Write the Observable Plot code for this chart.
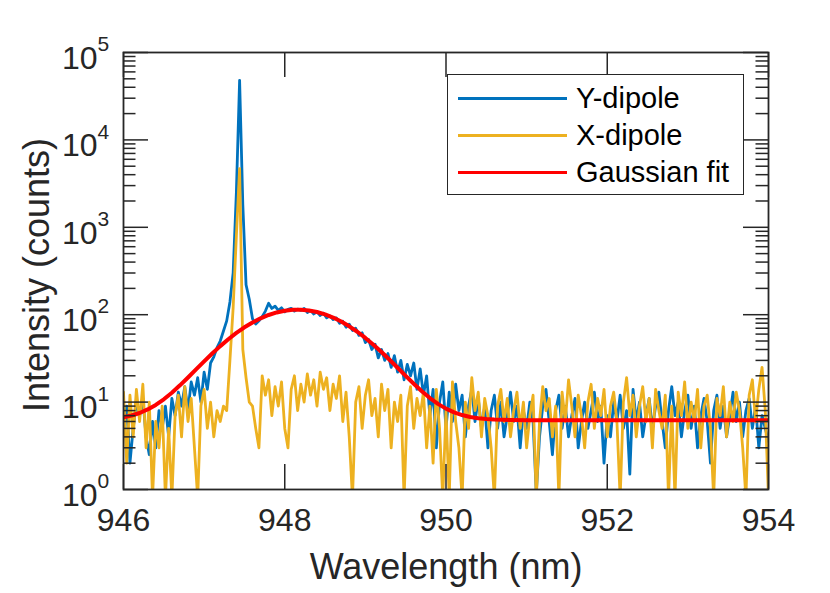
<!DOCTYPE html>
<html>
<head>
<meta charset="utf-8">
<script src="https://cdn.jsdelivr.net/npm/d3@7"></script>
<script src="https://cdn.jsdelivr.net/npm/@observablehq/plot@0.6"></script>
<style>
  html, body { margin: 0; padding: 0; background: white; }
  #wrap { position: relative; width: 830px; height: 593px; font-family: "Liberation Sans", Arial, sans-serif; color: #262626; }
  #legend { position: absolute; left: 447px; top: 74px; width: 297px; height: 121px; box-sizing: border-box;
            border: 1.5px solid #262626; background: white; }
  .row { position: absolute; left: 10px; height: 36px; line-height: 36px; font-size: 29px; white-space: nowrap; color: #000; }
  .sw { display: inline-block; width: 109px; height: 3px; vertical-align: middle; margin-right: 9px; position: relative; top: -2px; }
</style>
</head>
<body>
<div id="wrap"></div>
<script>
// ---- data ----
const wlStart = 946.0;
const wlStep = 0.04;

const yDipole = [
  6, 9, 2, 5, 10, 7, 11, 4, 2.5, 6,
  3, 8, 5, 9, 4, 11, 7, 13, 9, 15,
  8, 17, 12, 19, 10, 22, 14, 28, 33, 42,
  50, 65, 85, 140, 300, 2500, 48000, 1800, 220, 150,
  90, 78, 85, 95, 110, 135, 118, 125, 112, 120,
  108, 115, 118, 110, 116, 112, 118, 106, 112, 102,
  108, 98, 104, 92, 97, 88, 92, 80, 84, 72,
  78, 66, 70, 58, 62, 48, 52, 40, 46, 32,
  40, 30, 36, 25, 34, 22, 30, 18, 27, 20,
  28, 14, 24, 12, 20, 7, 14, 3, 10, 17,
  5, 13, 6, 16, 8, 12, 4, 9, 14, 6,
  11, 5, 9, 3, 8, 12, 5, 10, 4, 7,
  13, 6, 9, 3, 8, 5, 10, 6, 0.9, 4,
  9, 14, 6, 2.5, 8, 12, 5, 9, 4, 7,
  11, 3, 6, 10, 5, 8, 13, 6, 9, 2,
  7, 4, 10, 6, 12, 5, 8, 1.5, 14, 6,
  10, 4, 7, 11, 5, 9, 13, 6, 3, 8,
  15, 7, 10, 4, 8, 12, 5, 9, 3, 7,
  11, 6, 2, 8, 12, 5, 9, 4, 7, 13,
  6, 10, 4, 8, 11, 5, 9, 3, 7, 5,
  3.5
];

const xDipole = [
  13, 2, 12, 4, 14, 6, 16, 3, 10, 0.8,
  6, 3, 9, 0.8, 5, 0.8, 7, 12, 4, 15,
  6, 11, 3, 0.8, 9, 14, 5, 10, 4, 8,
  6, 9, 8, 30, 120, 800, 4700, 40, 19, 10,
  9, 5, 3, 20, 12, 18, 7, 15, 9, 17,
  5, 3, 14, 20, 8, 16, 10, 21, 12, 18,
  9, 22, 14, 19, 8, 16, 11, 20, 6, 13,
  4, 0.8, 10, 15, 5, 12, 18, 7, 11, 4,
  16, 8, 14, 3, 10, 6, 12, 0.8, 9, 15,
  5, 11, 7, 13, 3, 9, 2, 14, 5, 0.8,
  8, 0.8, 17, 6, 3, 0.8, 10, 5, 19, 8,
  13, 4, 11, 7, 3, 0.8, 9, 14, 6, 11,
  4, 8, 13, 5, 10, 3, 7, 12, 0.8, 6,
  15, 8, 11, 4, 9, 0.8, 13, 6, 18, 9,
  4, 12, 7, 3, 10, 16, 5, 11, 7, 14,
  4, 9, 13, 6, 0.8, 10, 19, 7, 12, 4,
  9, 15, 6, 11, 3, 14, 8, 5, 12, 0.8,
  9, 0.8, 13, 7, 17, 5, 10, 6, 14, 3,
  9, 12, 5, 0.8, 11, 7, 15, 4, 10, 6,
  13, 8, 3, 0.8, 12, 18, 6, 14, 25, 8,
  0.8
];

const fitWl = [
  946.0, 946.1, 946.2, 946.3, 946.4, 946.5, 946.6, 946.7, 946.8, 946.9,
  947.0, 947.1, 947.2, 947.3, 947.4, 947.5, 947.6, 947.7, 947.8, 947.9,
  948.0, 948.1, 948.2, 948.3, 948.4, 948.5, 948.6, 948.7, 948.8, 948.9,
  949.0, 949.1, 949.2, 949.3, 949.4, 949.5, 949.6, 949.7, 949.8, 949.9,
  950.0, 950.1, 950.2, 950.3, 950.4, 950.5, 950.6, 950.8, 951.0, 954.0
];
const fitVal = [
  6.71, 7.03, 7.51, 8.24, 9.28, 10.77, 12.81, 15.55, 19.13, 23.67,
  29.25, 35.94, 43.7, 52.4, 61.9, 71.7, 81.6, 90.9, 99.3, 106.1,
  111.1, 113.8, 114.0, 111.8, 107.3, 100.8, 92.7, 83.5, 73.7, 63.8,
  54.2, 45.4, 37.4, 30.5, 24.7, 19.95, 16.2, 13.3, 11.13, 9.55,
  8.42, 7.64, 7.11, 6.76, 6.54, 6.40, 6.32, 6.24, 6.21, 6.2
];

const xTicks = [946, 948, 950, 952, 954];
const yMajor = [1, 10, 100, 1000, 10000, 100000];
const yExponents = ["0", "1", "2", "3", "4", "5"];
const yMinor = yMajor.slice(0, -1).flatMap(d => [2, 3, 4, 5, 6, 7, 8, 9].map(m => m * d));

const seriesNames = ["Y-dipole", "X-dipole", "Gaussian fit"];
const seriesColors = ["#0072BD", "#EDB120", "#FF0000"];

// ---- tables ----
const spec = yDipole.map((v, i) => ({wl: +(wlStart + wlStep * i).toFixed(2), y: v, x: xDipole[i]}));
const fit = fitWl.map((w, i) => ({wl: w, v: fitVal[i]}));
const expOf = new Map(yMajor.map((d, i) => [d, yExponents[i]]));

// ---- layout ----
const W = 830, H = 593, mL = 123, mR = 62, mT = 52, mB = 104;
const fw = W - mL - mR, fh = H - mT - mB;
const major = 25, minor = 12.5;
const ink = "#262626";

const chart = Plot.plot({
  width: W, height: H,
  marginLeft: mL, marginRight: mR, marginTop: mT, marginBottom: mB,
  style: {fontFamily: "'Liberation Sans', Arial, sans-serif", color: ink, background: "white", overflow: "visible"},
  x: {domain: [946, 954], axis: null},
  y: {type: "log", domain: [1, 1e5], axis: null},
  marks: [
    Plot.line(spec, {x: "wl", y: "y", stroke: seriesColors[0], strokeWidth: 2.8, clip: true}),
    Plot.line(spec, {x: "wl", y: "x", stroke: seriesColors[1], strokeWidth: 2.8, clip: true}),
    Plot.line(fit, {x: "wl", y: "v", stroke: seriesColors[2], strokeWidth: 4, clip: true}),
    // ticks (inward, both sides)
    Plot.tickX(xTicks, {x: d => d, stroke: ink, strokeWidth: 1.5, insetTop: fh - major}),
    Plot.tickX(xTicks, {x: d => d, stroke: ink, strokeWidth: 1.5, insetBottom: fh - major}),
    Plot.tickY(yMajor, {y: d => d, stroke: ink, strokeWidth: 1.5, insetRight: fw - major}),
    Plot.tickY(yMajor, {y: d => d, stroke: ink, strokeWidth: 1.5, insetLeft: fw - major}),
    Plot.tickY(yMinor, {y: d => d, stroke: ink, strokeWidth: 1.5, insetRight: fw - minor}),
    Plot.tickY(yMinor, {y: d => d, stroke: ink, strokeWidth: 1.5, insetLeft: fw - minor}),
    Plot.frame({stroke: ink, strokeWidth: 1.8}),
    // x tick labels
    Plot.axisX({ticks: xTicks, tickSize: 0, tickPadding: 19, fontSize: 32, tickFormat: d => String(d), label: null, fill: ink}),
    // y tick labels: "10" + superscript
    Plot.text(yMajor, {y: d => d, frameAnchor: "left", text: () => "10", textAnchor: "end", dx: -26, dy: 6, fontSize: 32, fill: ink}),
    Plot.text(yMajor, {y: d => d, frameAnchor: "left", text: d => expOf.get(d), textAnchor: "start", dx: -26, dy: -8, fontSize: 21, fill: ink}),
    // axis titles
    Plot.text(["Wavelength (nm)"], {frameAnchor: "bottom", text: d => d, textAnchor: "middle", lineAnchor: "middle", dy: 78, fontSize: 36, fill: ink}),
    Plot.text(["Intensity (counts)"], {frameAnchor: "left", text: d => d, rotate: -90, textAnchor: "middle", lineAnchor: "middle", dx: -86, dy: 4, fontSize: 36, fill: ink})
  ]
});

const wrap = document.getElementById("wrap");
wrap.appendChild(chart);

// legend
const legend = document.createElement("div");
legend.id = "legend";
const rowTops = [5, 42, 79];
seriesNames.forEach((name, i) => {
  const row = document.createElement("div");
  row.className = "row";
  row.style.top = rowTops[i] + "px";
  const sw = document.createElement("span");
  sw.className = "sw";
  sw.style.background = seriesColors[i];
  row.appendChild(sw);
  row.appendChild(document.createTextNode(name));
  legend.appendChild(row);
});
wrap.appendChild(legend);
</script>
</body>
</html>
